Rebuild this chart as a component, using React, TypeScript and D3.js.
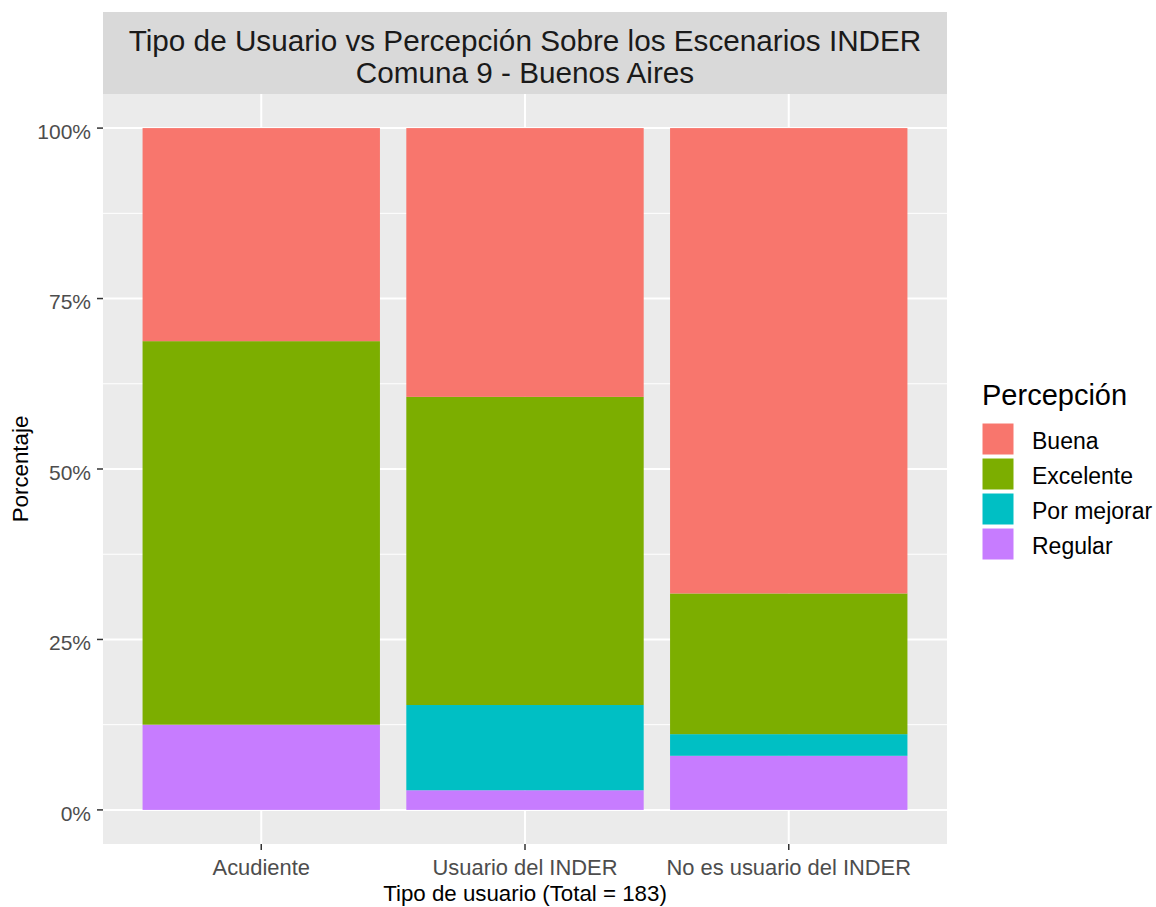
import React from "react";
import * as d3 from "d3";

const categories = ["Acudiente", "Usuario del INDER", "No es usuario del INDER"];
const levels = ["Buena", "Excelente", "Por mejorar", "Regular"];
// counts per category (Total = 183)
const buena = [5, 41, 43];
const excelente = [9, 47, 13];
const porMejorar = [0, 13, 2];
const regular = [2, 3, 5];
const yTicks = [0, 0.25, 0.5, 0.75, 1];
const yMinor = [0.125, 0.375, 0.625, 0.875];
const colors = ["#F8766D", "#7CAE00", "#00BFC4", "#C77CFF"];
const titleLines = ["Tipo de Usuario vs Percepción Sobre los Escenarios INDER", "Comuna 9 - Buenos Aires"];

const W = 1156, H = 907;
const px0 = 103, px1 = 947, py0 = 94, py1 = 844;
const FONT = "Liberation Sans, Arial, sans-serif";

export default function App() {
  const series = [buena, excelente, porMejorar, regular];
  const rows = categories.map((c, i) => {
    const r: any = { cat: c };
    const tot = series.reduce((s, a) => s + a[i], 0);
    levels.forEach((l, k) => (r[l] = series[k][i] / tot));
    return r;
  });
  const stackKeys = [...levels].reverse();
  const stacked = d3.stack<any>().keys(stackKeys)(rows);
  const x = d3.scaleBand().domain(categories).range([px0, px1]).paddingInner(0.1).paddingOuter(0.15);
  const y = d3.scaleLinear().domain([-0.05, 1.05]).range([py1, py0]);
  const color = d3.scaleOrdinal<string, string>().domain(levels).range(colors);
  const fmt = d3.format(".0%");
  const cx = (c: string) => x(c)! + x.bandwidth() / 2;

  return (
    <svg width={W} height={H} style={{ position: "absolute", left: 0, top: 0, background: "#fff" }} fontFamily={FONT}>
      <rect x={0} y={0} width={W} height={H} fill="#fff" />
      <rect x={px0} y={12} width={px1 - px0} height={py0 - 12} fill="#D9D9D9" />
      {titleLines.map((t, i) => (
        <text key={i} x={(px0 + px1) / 2} y={51 + i * 32} textAnchor="middle" fontSize={29.7} fill="#1A1A1A">{t}</text>
      ))}
      <rect x={px0} y={py0} width={px1 - px0} height={py1 - py0} fill="#EBEBEB" />
      {yMinor.map((v) => (
        <line key={"m" + v} x1={px0} x2={px1} y1={y(v)} y2={y(v)} stroke="#fff" strokeWidth={1} />
      ))}
      {yTicks.map((v) => (
        <line key={"g" + v} x1={px0} x2={px1} y1={y(v)} y2={y(v)} stroke="#fff" strokeWidth={2} />
      ))}
      {categories.map((c) => (
        <line key={"gx" + c} x1={cx(c)} x2={cx(c)} y1={py0} y2={py1} stroke="#fff" strokeWidth={2} />
      ))}
      {stacked.map((s) => (
        <g key={s.key} fill={color(s.key)}>
          {s.map((d, i) => (
            <rect key={i} x={x(categories[i])!} width={x.bandwidth()} y={y(d[1])} height={Math.max(0, y(d[0]) - y(d[1]))} />
          ))}
        </g>
      ))}
      {yTicks.map((v) => (
        <g key={"t" + v}>
          <line x1={px0 - 6} x2={px0} y1={y(v)} y2={y(v)} stroke="#333" strokeWidth={1.5} />
          <text x={px0 - 12} y={y(v)} dy="0.52em" textAnchor="end" fontSize={21} fill="#4D4D4D">{fmt(v)}</text>
        </g>
      ))}
      {categories.map((c) => (
        <g key={"xt" + c}>
          <line x1={cx(c)} x2={cx(c)} y1={py1} y2={py1 + 6} stroke="#333" strokeWidth={1.5} />
          <text x={cx(c)} y={875} textAnchor="middle" fontSize={21.9} fill="#4D4D4D">{c}</text>
        </g>
      ))}
      <text x={(px0 + px1) / 2} y={901} textAnchor="middle" fontSize={22.3} fill="#000">Tipo de usuario (Total = 183)</text>
      <text transform={`translate(28,${(py0 + py1) / 2}) rotate(-90)`} textAnchor="middle" fontSize={22.3} fill="#000">Porcentaje</text>
      <text x={982} y={405} fontSize={29} fill="#000">Percepción</text>
      {levels.map((l, i) => (
        <g key={"lg" + l}>
          <rect x={982} y={423 + i * 35} width={32} height={32} fill={color(l)} stroke="#fff" strokeWidth={1} />
          <text x={1032} y={423 + i * 35 + 16} dy="0.45em" fontSize={23} fill="#000">{l}</text>
        </g>
      ))}
    </svg>
  );
}
